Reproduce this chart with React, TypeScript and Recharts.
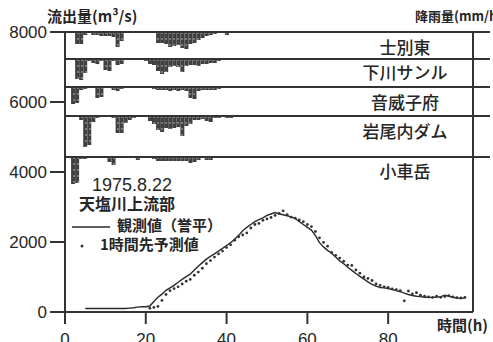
import React from 'react';
import { ComposedChart, Line, Scatter, XAxis, YAxis, BarChart, Bar } from 'recharts';

// ---------- data ----------
const flowTicks = [0, 2000, 4000, 6000, 8000];
const hourTicks = [0, 20, 40, 60, 80];

// observed discharge (誉平), hourly from hour 5
const observedStartHour = 5;
const observedFlow = [
  100, 100, 100, 100, 100, 100, 100, 100, 100, 100, 100, 110, 120, // 5-17
  140, 150, 150, 170, 300, 420, 510, 620, 690, 760, 850, 930, 1010, // 18-30
  1080, 1200, 1310, 1410, 1510, 1590, 1660, 1740, 1820, 1900, 1980, 2080, 2190, // 31-43
  2320, 2420, 2500, 2580, 2640, 2690, 2760, 2800, 2840, 2800, 2780, 2750, 2720, // 44-56
  2670, 2580, 2500, 2420, 2340, 2180, 1980, 1860, 1760, 1680, 1570, 1460, 1380, // 57-69
  1280, 1190, 1100, 1020, 940, 860, 790, 740, 700, 690, 670, 640, 610, // 70-82
  580, 540, 500, 470, 450, 440, 420, 420, 410, 430, 440, 480, 450, // 83-95
  420, 400, 390, 400, // 96-99
];

// 1-hour-ahead forecast, hourly from hour 21
const predictedStartHour = 21;
const predictedFlow = [
  110, 130, 160, 330, 500, 610, 670, 720, 800, 880, // 21-30
  930, 1050, 1140, 1250, 1380, 1470, 1570, 1660, 1740, 1840, // 31-40
  1920, 2050, 2150, 2200, 2260, 2400, 2500, 2530, 2620, 2660, // 41-50
  2700, 2760, 2820, 2890, 2780, 2710, 2680, 2630, 2580, 2500, // 51-60
  2440, 2300, 2120, 1990, 1880, 1700, 1620, 1540, 1450, 1340, // 61-70
  1330, 1200, 1110, 1000, 960, 900, 800, 760, 720, 700, // 71-80
  660, 640, 610, 320, 600, 520, 550, 480, 450, 430, // 81-90
  420, 450, 420, 440, 470, 430, 410, 400, 420, // 91-99
];

// hourly rainfall (mm/h), from hour 0
const stationNames = ['士別東', '下川サンル', '音威子府', '岩尾内ダム', '小車岳'];
const rainShibetsuHigashi = [
  0, 0, 0, 12, 12, 3, 1, 3, 3, 4, 4, 4, 5, 15, 9, 0, 0, 0, 0, 0,
  0, 0, 0, 11, 11, 12, 15, 14, 13, 16, 17, 12, 11, 8, 6, 4, 3, 2, 0, 0, 3, 0,
];
const rainShimokawaSanru = [
  0, 0, 0, 20, 21, 14, 2, 4, 5, 2, 11, 12, 2, 6, 5, 1, 0, 0, 0, 0,
  2, 5, 6, 12, 15, 13, 8, 7, 8, 13, 7, 6, 6, 7, 5, 5, 4, 4, 2, 0, 0, 0,
];
const rainOtoineppu = [
  0, 0, 17, 16, 3, 2, 0, 0, 11, 10, 0, 0, 3, 4, 2, 0, 0, 0, 0, 1,
  1, 1, 2, 3, 3, 3, 4, 3, 4, 3, 4, 11, 12, 4, 3, 3, 3, 3, 2, 1, 1, 1,
];
const rainIwaonaiDam = [
  0, 0, 0, 0, 4, 31, 29, 6, 2, 0, 0, 0, 2, 17, 17, 7, 4, 2, 0, 0,
  1, 5, 8, 14, 16, 12, 13, 12, 11, 20, 10, 8, 4, 4, 3, 5, 6, 2, 2, 1, 2, 2,
];
const rainKoguruma = [
  0, 0, 27, 26, 2, 2, 1, 0, 0, 0, 0, 5, 8, 1, 0, 0, 0, 0, 3, 1,
  1, 1, 2, 4, 4, 4, 4, 4, 4, 4, 4, 6, 5, 3, 1, 3, 3, 1, 1, 1, 1, 0,
];
const rainSeries = [rainShibetsuHigashi, rainShimokawaSanru, rainOtoineppu, rainIwaonaiDam, rainKoguruma];

// ---------- layout ----------
const W = 493;
const H = 342;
const PLOT_LEFT = 65;
const PLOT_TOP = 32;
const PLOT_RIGHT = 474;
const X_MAX = 101;
const RAIN_X_MAX = 105;
const RAIN_RIGHT_MARGIN = 3;
const panelTops = [32, 59, 87, 116, 157];
const panelHeights = [27, 28, 29, 41, 40];
const labelBaselines = [54, 79, 109, 138, 178];

const NUM_FONT = '"Liberation Sans", Arial, sans-serif';
const JP_FONT = '"Noto Sans CJK JP", "Noto Sans", sans-serif';
const INK = '#262626';
const AXIS = '#333';

const observedData = observedFlow.map((v, i) => ({ hour: observedStartHour + i, obs: v }));
const predictedData = predictedFlow.map((v, i) => ({ hour: predictedStartHour + i, pred: v }));

function RainPanel({ values, idx }: { values: number[]; idx: number }) {
  const data = values.map((v, i) => ({ hour: i, rain: v }));
  const h = panelHeights[idx];
  return (
    <div style={{ position: 'absolute', left: 0, top: panelTops[idx] - 2 }}>
      <BarChart
        width={W}
        height={h + 2}
        data={data}
        margin={{ top: 1, right: RAIN_RIGHT_MARGIN, left: PLOT_LEFT, bottom: 0 }}
        barCategoryGap={0}
        barGap={0}
      >
        <XAxis
          type="number"
          dataKey="hour"
          domain={[0, RAIN_X_MAX]}
          orientation="top"
          height={1}
          tick={false}
          tickLine={false}
          axisLine={{ stroke: AXIS, strokeWidth: 2 }}
          allowDataOverflow
        />
        <YAxis hide reversed domain={[0, h]} allowDataOverflow />
        <Bar dataKey="rain" barSize={4} fill="url(#rainTexture)" isAnimationActive={false} />
      </BarChart>
    </div>
  );
}

export default function App() {
  return (
    <div style={{ position: 'absolute', left: 0, top: 0, width: W, height: H, background: '#fff', overflow: 'hidden' }}>
      <svg width={0} height={0} style={{ position: 'absolute' }}>
        <defs>
          <pattern id="rainTexture" patternUnits="userSpaceOnUse" width={4} height={6}>
            <rect x={0} y={0} width={4} height={6} fill="#404040" />
            <circle cx={2} cy={3} r={0.75} fill="#d0d0d0" />
          </pattern>
        </defs>
      </svg>

      <div style={{ position: 'absolute', left: 0, top: 0 }}>
        <ComposedChart width={W} height={H} margin={{ top: PLOT_TOP, right: W - PLOT_RIGHT, left: 0, bottom: 0 }}>
          <XAxis
            type="number"
            dataKey="hour"
            domain={[0, X_MAX]}
            ticks={hourTicks}
            height={30}
            tickSize={12}
            tickMargin={9}
            allowDataOverflow
            axisLine={{ stroke: AXIS, strokeWidth: 2 }}
            tickLine={{ stroke: AXIS, strokeWidth: 2 }}
            tick={{ fill: INK, fontSize: 17, fontFamily: NUM_FONT }}
          />
          <YAxis
            type="number"
            domain={[0, 8000]}
            ticks={flowTicks}
            width={PLOT_LEFT}
            tickSize={15}
            tickMargin={3}
            axisLine={{ stroke: AXIS, strokeWidth: 2 }}
            tickLine={{ stroke: AXIS, strokeWidth: 2 }}
            tick={{ fill: INK, fontSize: 17, fontFamily: NUM_FONT }}
          />
          <YAxis
            yAxisId="rainAxis"
            orientation="right"
            width={1}
            domain={[0, 1]}
            tick={false}
            tickLine={false}
            axisLine={{ stroke: AXIS, strokeWidth: 2 }}
          />
          <Line
            data={observedData}
            dataKey="obs"
            type="linear"
            stroke="#2a2a2a"
            strokeWidth={1.4}
            dot={false}
            isAnimationActive={false}
          />
          <Scatter
            data={predictedData}
            dataKey="pred"
            isAnimationActive={false}
            shape={(p: any) => <circle cx={p.cx} cy={p.cy} r={1.4} fill="#333" />}
          />
        </ComposedChart>
      </div>

      {rainSeries.map((vals, i) => (
        <RainPanel key={stationNames[i]} values={vals} idx={i} />
      ))}

      <svg width={W} height={H} style={{ position: 'absolute', left: 0, top: 0, pointerEvents: 'none' }}>
        <text x={47} y={22} fontFamily={JP_FONT} fontWeight={700} fontSize={15} fill={INK}>流出量(m³/s)</text>
        <text x={415} y={21} fontFamily={JP_FONT} fontWeight={700} fontSize={13} fill={INK}>降雨量(mm/h)</text>
        {stationNames.map((n, i) => (
          <text key={n} x={405} y={labelBaselines[i]} textAnchor="middle" fontFamily={JP_FONT} fontWeight={500} fontSize={17} fill={INK}>{n}</text>
        ))}
        <text x={92} y={191} fontFamily={NUM_FONT} fontSize={18} fill={INK}>1975.8.22</text>
        <text x={79} y={210} fontFamily={JP_FONT} fontWeight={700} fontSize={16} fill={INK}>天塩川上流部</text>
        <line x1={72} y1={227} x2={110} y2={227} stroke="#2a2a2a" strokeWidth={1.5} />
        <text x={117} y={231} fontFamily={JP_FONT} fontWeight={700} fontSize={15} fill={INK}>観測値（誉平）</text>
        <circle cx={82} cy={246} r={1.5} fill="#333" />
        <text x={100} y={250} fontFamily={JP_FONT} fontWeight={700} fontSize={15} fill={INK}>1時間先予測値</text>
        <text x={437} y={331} fontFamily={JP_FONT} fontWeight={700} fontSize={15} fill={INK}>時間(h)</text>
      </svg>
    </div>
  );
}
